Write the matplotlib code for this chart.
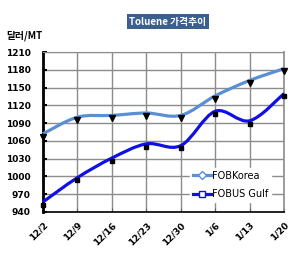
import matplotlib.pyplot as plt
import numpy as np
from matplotlib.path import Path
from matplotlib.patches import PathPatch
from matplotlib.lines import Line2D
import matplotlib.transforms as mtransforms

plt.rcParams["font.family"] = ["Noto Sans CJK KR", "DejaVu Sans"]

dates = ["12/2", "12/9", "12/16", "12/23", "12/30", "1/6", "1/13", "1/20"]
fob_korea = [1072, 1100, 1103, 1107, 1103, 1136, 1162, 1182]
fob_us_gulf = [957, 998, 1031, 1055, 1052, 1110, 1094, 1140]
y_ticks = [940, 970, 1000, 1030, 1060, 1090, 1120, 1150, 1180, 1210]


def smooth_path(x, y, tension=1 / 6):
    # Excel-style smoothed line as cubic Bezier segments through the points
    x = np.asarray(x, float)
    y = np.asarray(y, float)
    pts = np.column_stack([x, y])
    verts = [pts[0]]
    codes = [Path.MOVETO]
    n = len(pts)
    for i in range(n - 1):
        p0 = pts[i - 1] if i > 0 else pts[i]
        p1 = pts[i]
        p2 = pts[i + 1]
        p3 = pts[i + 2] if i + 2 < n else pts[i + 1]
        c1 = p1 + (p2 - p0) * tension
        c2 = p2 - (p3 - p1) * tension
        verts += [c1, c2, p2]
        codes += [Path.CURVE4] * 3
    return Path(verts, codes)


fig = plt.figure(figsize=(3.06, 2.64), dpi=100)
ax = fig.add_axes([0.1405, 0.197, 0.788, 0.606])

x = np.arange(len(dates))
korea_color = "#5b8fd3"
gulf_color = "#1010e6"

ax.add_patch(PathPatch(smooth_path(x, fob_korea), fill=False,
                       edgecolor=korea_color, linewidth=2.3, zorder=3,
                       clip_on=False))
ax.add_patch(PathPatch(smooth_path(x, fob_us_gulf), fill=False,
                       edgecolor=gulf_color, linewidth=2.3, zorder=3,
                       clip_on=False))

# black markers sit slightly below the line, as in the original sheet
shift = mtransforms.ScaledTranslation(0, -2 / 72, fig.dpi_scale_trans)
ax.plot(x, fob_korea, linestyle="none", marker="v", color="black",
        markersize=4, transform=ax.transData + shift, zorder=4,
        clip_on=False)
ax.plot(x, fob_us_gulf, linestyle="none", marker="s", color="black",
        markersize=3.5, transform=ax.transData + shift, zorder=4,
        clip_on=False)

ax.set_xlim(0, len(dates) - 1)
ax.set_ylim(940, 1210)
ax.set_xticks(x)
ax.set_xticklabels(dates, rotation=45, ha="right", rotation_mode="anchor",
                   fontsize=6.5, fontweight="bold", family="DejaVu Sans")
ax.set_yticks(y_ticks)
ax.set_yticklabels([str(v) for v in y_ticks], fontsize=6.5,
                   fontweight="bold", family="DejaVu Sans")
ax.tick_params(axis="x", direction="in", length=3, pad=6, color="#606060")
ax.tick_params(axis="y", direction="in", length=3, pad=9, width=1.5)

ax.grid(True, color="#8c8c8c", linewidth=1)
ax.set_axisbelow(True)
ax.spines["left"].set_linewidth(2)
ax.spines["bottom"].set_linewidth(1.2)
ax.spines["top"].set_color("#8c8c8c")
ax.spines["right"].set_color("#8c8c8c")
ax.spines["right"].set_linewidth(1.2)

handles = [
    Line2D([], [], color=korea_color, linewidth=2.3, marker="D",
           markersize=4, markerfacecolor="white", markeredgecolor=korea_color),
    Line2D([], [], color=gulf_color, linewidth=2.3, marker="s",
           markersize=5, markerfacecolor="white", markeredgecolor=gulf_color),
]
leg = ax.legend(handles, ["FOBKorea", "FOBUS Gulf"], loc="lower left",
                bbox_to_anchor=(0.59, 0.03), frameon=True,
                handlelength=1.9, handletextpad=0.0, labelspacing=0.9,
                borderpad=0.3, prop={"family": "DejaVu Sans", "size": 7})
leg.get_frame().set_facecolor("white")
leg.get_frame().set_edgecolor("white")
leg.get_frame().set_alpha(1)
leg.get_frame().set_boxstyle("square", pad=0)

fig.text(0.548, 0.918, "Toluene 가격추이", ha="center", va="center",
         color="white", fontsize=7, fontweight="bold",
         bbox=dict(boxstyle="square,pad=0.25", facecolor="#3b5f8f",
                   edgecolor="none"))
fig.text(0.02, 0.865, "달러/MT", ha="left", va="center", fontsize=7,
         fontweight="bold")

fig.savefig("out.png", dpi=100)
